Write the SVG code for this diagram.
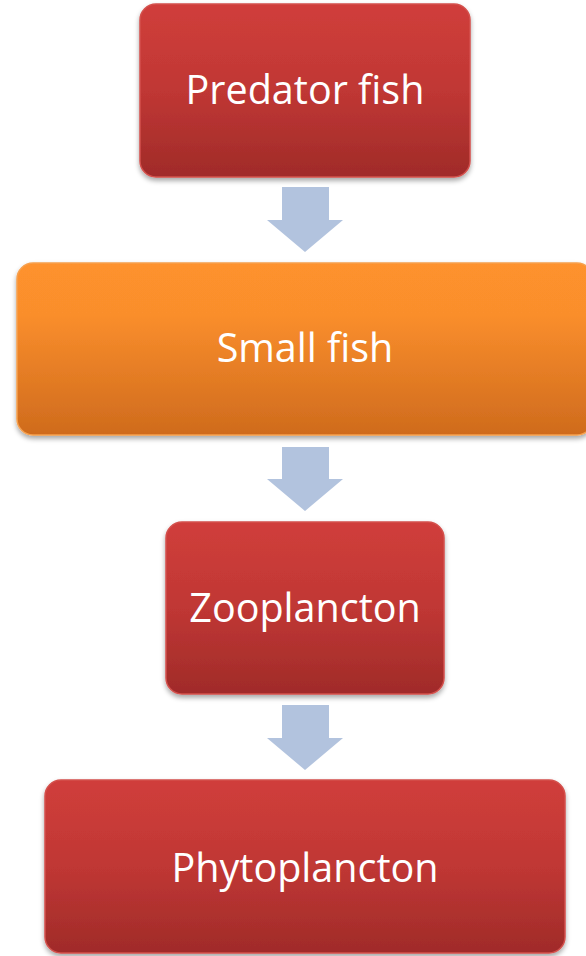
<svg xmlns="http://www.w3.org/2000/svg" width="586" height="956" viewBox="0 0 586 956">
<defs>
<linearGradient id="gRed" x1="0" y1="0" x2="0" y2="1">
<stop offset="0" stop-color="#D03E3B"/>
<stop offset="0.5" stop-color="#C03734"/>
<stop offset="1" stop-color="#A02B29"/>
</linearGradient>
<linearGradient id="gOrange" x1="0" y1="0" x2="0" y2="1">
<stop offset="0" stop-color="#FE922D"/>
<stop offset="0.3" stop-color="#FA8E2C"/>
<stop offset="1" stop-color="#CF6B1D"/>
</linearGradient>
<filter id="shadow" x="-10%" y="-10%" width="120%" height="130%">
<feDropShadow dx="0" dy="3" stdDeviation="2.5" flood-color="#000" flood-opacity="0.35"/>
</filter>
</defs>
<style>
.red{fill:url(#gRed);stroke:#D4504C;stroke-width:1.5;filter:url(#shadow)}
.orange{fill:url(#gOrange);stroke:#F6A04E;stroke-width:1.5;filter:url(#shadow)}
.lbl{font-family:"Open Sans","Liberation Sans",sans-serif;font-size:39.5px;fill:#FFFFFF;text-anchor:middle}
.arrow{fill:#B2C3DE}
</style>
<rect width="586" height="956" fill="#FFFFFF"/>
<g id="connectors">
<path class="arrow" d="M282,187 H329 V220 H343 L305,252 L267,220 H282 Z"/>
<path class="arrow" d="M282,447 H329 V479 H343 L305,511 L267,479 H282 Z"/>
<path class="arrow" d="M282,705 H329 V738 H343 L305,770 L267,738 H282 Z"/>
</g>
<g id="predator-fish">
<rect class="red" x="140" y="4" width="330" height="173" rx="16"/>
<text class="lbl" x="305" y="104">Predator fish</text>
</g>
<g id="small-fish">
<rect class="orange" x="17" y="263" width="576" height="172" rx="16"/>
<text class="lbl" x="305" y="362">Small fish</text>
</g>
<g id="zooplancton">
<rect class="red" x="166" y="522" width="278" height="172" rx="16"/>
<text class="lbl" x="305" y="622">Zooplancton</text>
</g>
<g id="phytoplancton">
<rect class="red" x="45" y="780" width="520" height="173" rx="16"/>
<text class="lbl" x="305" y="882">Phytoplancton</text>
</g>
</svg>
